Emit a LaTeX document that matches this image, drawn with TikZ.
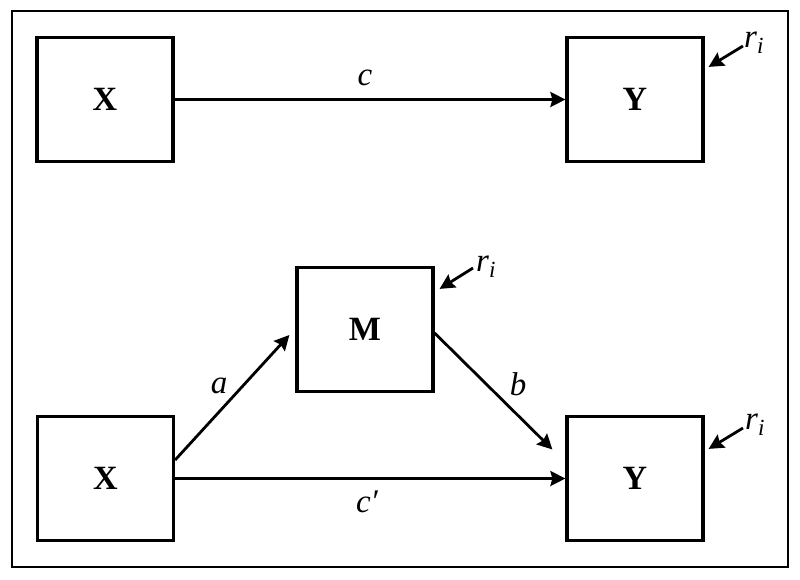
\documentclass[tikz,border=0pt]{standalone}
\usepackage{fontspec}
\setmainfont{Liberation Serif}
\usetikzlibrary{arrows.meta,calc}
\begin{document}
\begin{tikzpicture}[x=1pt,y=-1pt,
  box/.style={draw,line width=3.2pt,minimum width=136pt,minimum height=124pt,inner sep=0pt,font=\fontsize{34}{38}\selectfont\bfseries},
  arr/.style={line width=2.8pt,-{Stealth[length=15pt,width=15pt,inset=2pt]}},
  lab/.style={inner sep=0pt,font=\fontsize{33}{36}\selectfont\itshape},
  rlab/.style={inner sep=0pt,anchor=base west,font=\fontsize{33}{36}\selectfont\itshape}]
\useasboundingbox (0,0) rectangle (800,579);
\draw[line width=1.6pt] (12,11) rectangle (788,567);
% top model
\node[box] (X1) at (105,99.5) {X};
\node[box] (Y1) at (635,99.5) {Y};
\draw[arr] (X1.east) -- (Y1.west);
\node[lab] (c) at (365,78) {c};
\coordinate (r1) at (743,46);
\draw[arr] (r1) -- ($(Y1.north east)+(4,31)$);
\node[rlab] (r1l) at (744,47) {r\textsubscript{i}};
% bottom model
\node[box] (M) at (365,329.5) {M};
\node[box] (X2) at (105.5,478.5) {X};
\node[box] (Y2) at (635,478.5) {Y};
\draw[arr] ([yshift=18.5pt]X2.east) -- ([xshift=-6pt,yshift=-5.5pt]M.west);
\draw[arr] ([yshift=-3.5pt]M.east) -- ([xshift=-13pt,yshift=29pt]Y2.west);
\draw[arr] (X2.east) -- (Y2.west);
\node[lab] (a) at (219,386) {a};
\node[lab] (b) at (518,384) {b};
\node[lab] (cp) at (367,502) {c′};
\coordinate (r2) at (473,268);
\draw[arr] (r2) -- ($(M.north east)+(5,23)$);
\node[rlab] (r2l) at (476,271) {r\textsubscript{i}};
\coordinate (r3) at (743,428);
\draw[arr] (r3) -- ($(Y2.north east)+(4,34)$);
\node[rlab] (r3l) at (745,429) {r\textsubscript{i}};
\end{tikzpicture}
\end{document}
